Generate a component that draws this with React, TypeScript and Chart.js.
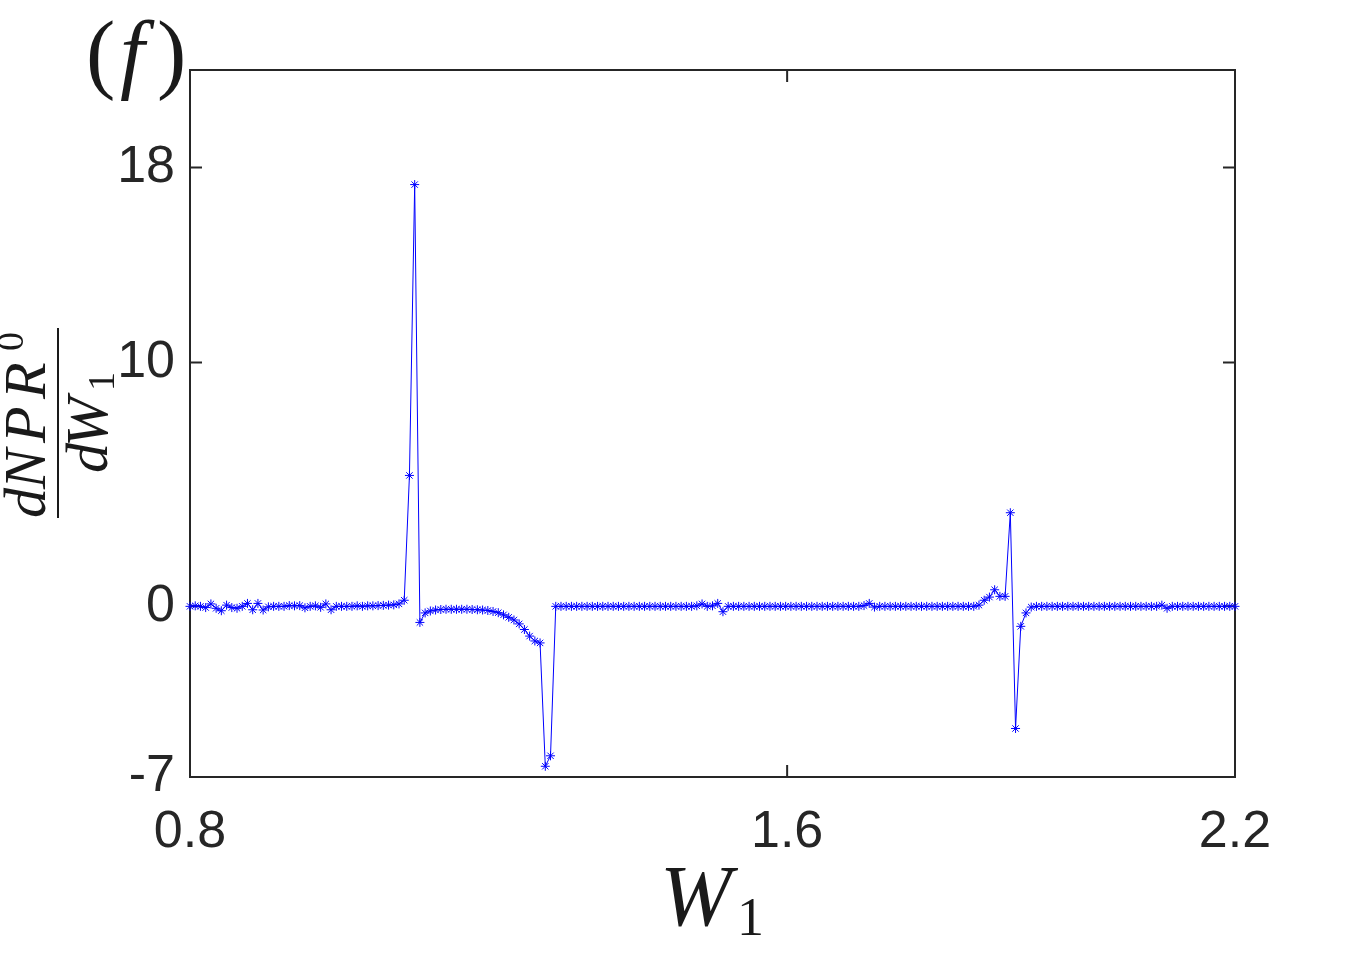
import { useEffect, useRef } from "react";
import { Chart, registerables } from "chart.js";

Chart.register(...registerables);

// Sampling grid of W1: 0.8 .. 2.2, 201 samples (step 0.007)
const W_START = 0.8;
const W_STEP = 0.007;

// dNPR^0/dW1 values (one per sample)
const dValues: number[] = [
  // 0-9
  0, 0.02, 0, -0.05, 0.1, -0.08, -0.18, 0.05, -0.05, -0.08,
  // 10-19
  0, 0.12, -0.14, 0.12, -0.15, -0.02, 0, 0, 0, 0.03,
  // 20-29
  0.02, 0.03, -0.06, 0, 0.02, -0.04, 0.1, -0.14, 0, 0,
  // 30-39
  0, 0, 0.02, 0, 0.02, 0.02, 0.03, 0.04, 0.05, 0.06,
  // 40-49
  0.1, 0.25, 5.37, 17.3, -0.66, -0.27, -0.19, -0.15, -0.13, -0.12,
  // 50-59
  -0.12, -0.12, -0.12, -0.12, -0.13, -0.14, -0.15, -0.17, -0.21, -0.26,
  // 60-69
  -0.35, -0.45, -0.56, -0.72, -0.95, -1.22, -1.42, -1.5, -6.56, -6.13,
  // 70-79
  0, 0, 0, 0, 0, 0, 0, 0, 0, 0,
  // 80-89
  0, 0, 0, 0, 0, 0, 0, 0, 0, 0,
  // 90-99
  0, 0, 0, 0, 0, 0, 0, 0.02, 0.1, 0,
  // 100-109
  0.02, 0.12, -0.22, 0, 0, 0, 0, 0, 0, 0,
  // 110-119
  0, 0, 0, 0, 0, 0, 0, 0, 0, 0,
  // 120-129
  0, 0, 0, 0, 0, 0, 0, 0, 0, 0.03,
  // 130-139
  0.12, -0.03, 0, 0, 0, 0, 0, 0, 0, 0,
  // 140-149
  0, 0, 0, 0, 0, 0, 0, 0, 0, 0,
  // 150-159
  0, 0.05, 0.25, 0.38, 0.68, 0.41, 0.41, 3.84, -5.01, -0.82,
  // 160-169
  -0.27, -0.03, 0, 0, 0, 0, 0, 0, 0, 0,
  // 170-179
  0, 0, 0, 0, 0, 0, 0, 0, 0, 0,
  // 180-189
  0, 0, 0, 0, 0, 0, 0.05, -0.08, 0, 0,
  // 190-200
  0, 0, 0, 0, 0, 0, 0, 0, 0, 0, 0,
];

const wValues: number[] = dValues.map((_, i) => +(W_START + i * W_STEP).toFixed(3));

const xTickValues = [0.8, 1.6, 2.2];
const yTickValues = [-7, 0, 10, 18];
const X_MIN = 0.8;
const X_MAX = 2.2;
const Y_MIN = -7;
const Y_MAX = 22;

const AXIS_COLOR = "#262626";
const SANS = "'Liberation Sans', Arial, Helvetica, sans-serif";
const SERIF = "'Liberation Serif', 'Times New Roman', serif";

const decorPlugin = {
  id: "decor",
  beforeDatasetsDraw(chart: any) {
    const { ctx, chartArea } = chart;
    const { left, right, top, bottom } = chartArea;
    const xs = chart.scales.x;
    const ys = chart.scales.y;
    const tl = 12;
    ctx.save();
    ctx.strokeStyle = AXIS_COLOR;
    ctx.lineWidth = 2;
    ctx.strokeRect(left, top, right - left, bottom - top);
    ctx.beginPath();
    for (const v of xTickValues) {
      const px = xs.getPixelForValue(v);
      ctx.moveTo(px, bottom);
      ctx.lineTo(px, bottom - tl);
      ctx.moveTo(px, top);
      ctx.lineTo(px, top + tl);
    }
    for (const v of yTickValues) {
      const py = ys.getPixelForValue(v);
      ctx.moveTo(left, py);
      ctx.lineTo(left + tl, py);
      ctx.moveTo(right, py);
      ctx.lineTo(right - tl, py);
    }
    ctx.stroke();
    ctx.restore();
  },
  afterDraw(chart: any) {
    const { ctx } = chart;
    ctx.save();
    ctx.fillStyle = "#1a1a1a";
    ctx.textBaseline = "alphabetic";
    ctx.textAlign = "left";

    // Panel label (f)
    ctx.font = `88px ${SERIF}`;
    ctx.fillText("(", 86, 82);
    ctx.font = `italic 88px ${SERIF}`;
    ctx.fillText("f", 120, 82);
    ctx.font = `88px ${SERIF}`;
    ctx.fillText(")", 157, 82);

    // X label W_1
    ctx.font = `italic 86px ${SERIF}`;
    ctx.fillText("W", 660, 925);
    ctx.font = `54px ${SERIF}`;
    ctx.fillText("1", 737, 935);

    // Y label: fraction dNPR^0 / dW_1, rotated
    const cy = 423;
    ctx.translate(0, cy);
    ctx.rotate(-Math.PI / 2);
    // numerator
    const numBase = 45;
    ctx.font = `italic 60px ${SERIF}`;
    ctx.fillText("d", -95, numBase);
    ctx.fillText("N", -66, numBase);
    ctx.fillText("P", -20, numBase);
    ctx.fillText("R", 24, numBase);
    ctx.font = `38px ${SERIF}`;
    ctx.fillText("0", 72, numBase - 22);
    // fraction bar
    ctx.strokeStyle = "#1a1a1a";
    ctx.lineWidth = 2;
    ctx.beginPath();
    ctx.moveTo(-95, 58);
    ctx.lineTo(95, 58);
    ctx.stroke();
    // denominator
    const denBase = 107;
    ctx.font = `italic 60px ${SERIF}`;
    ctx.fillText("d", -50, denBase);
    ctx.fillText("W", -24, denBase);
    ctx.font = `38px ${SERIF}`;
    ctx.fillText("1", 32, denBase + 7);
    ctx.restore();
  },
};

export default function App() {
  const canvasRef = useRef<HTMLCanvasElement>(null);

  useEffect(() => {
    const canvas = canvasRef.current;
    if (!canvas) return;
    const points = wValues.map((w, i) => ({ x: w, y: dValues[i] }));
    const chart = new Chart(canvas, {
      type: "line",
      data: {
        datasets: [
          {
            data: points,
            borderColor: "#0000ff",
            borderWidth: 1,
            pointStyle: "star",
            pointRadius: 4.5,
            pointBorderColor: "#0000ff",
            pointBackgroundColor: "#0000ff",
            pointBorderWidth: 1,
            tension: 0,
            clip: false as any,
          },
        ],
      },
      options: {
        responsive: false,
        animation: false,
        devicePixelRatio: 1,
        layout: { padding: { top: 70, right: 130, left: 0, bottom: 0 } },
        plugins: {
          legend: { display: false },
          tooltip: { enabled: false },
        },
        scales: {
          x: {
            type: "linear",
            position: "bottom",
            min: X_MIN,
            max: X_MAX,
            afterBuildTicks: (s: any) => {
              s.ticks = xTickValues.map((v) => ({ value: v }));
            },
            afterFit: (s: any) => {
              s.height = 176;
            },
            grid: { display: false, drawTicks: false },
            border: { display: false },
            ticks: {
              autoSkip: false,
              maxRotation: 0,
              padding: 24,
              color: AXIS_COLOR,
              font: { family: SANS, size: 52 },
              callback: (v: any) => String(v),
            },
          },
          y: {
            type: "linear",
            position: "left",
            min: Y_MIN,
            max: Y_MAX,
            afterBuildTicks: (s: any) => {
              s.ticks = yTickValues.map((v) => ({ value: v }));
            },
            afterFit: (s: any) => {
              s.width = 190;
            },
            grid: { display: false, drawTicks: false },
            border: { display: false },
            ticks: {
              autoSkip: false,
              padding: 15,
              color: AXIS_COLOR,
              font: { family: SANS, size: 52 },
              callback: (v: any) => String(v),
            },
          },
        },
      },
      plugins: [decorPlugin],
    });
    return () => chart.destroy();
  }, []);

  return (
    <div
      style={{
        position: "fixed",
        left: 0,
        top: 0,
        width: 1365,
        height: 953,
        background: "#ffffff",
      }}
    >
      <canvas ref={canvasRef} width={1365} height={953} style={{ display: "block" }} />
    </div>
  );
}
